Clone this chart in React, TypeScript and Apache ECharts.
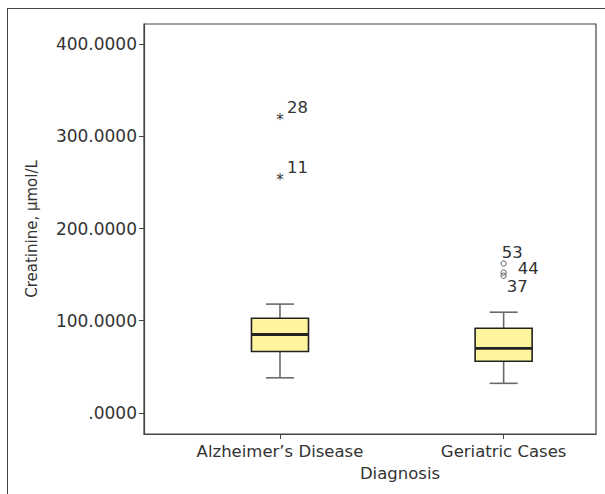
import React, { useEffect, useRef } from "react";
import * as echarts from "echarts";

const CATEGORIES = ["Alzheimer’s Disease", "Geriatric Cases"];
// [min whisker, Q1, median, Q3, max whisker]
const BOX_ALZ = [38, 66.5, 85, 102.7, 118];
const BOX_GER = [32, 56, 70, 91.8, 109.2];
const BOXES = [BOX_ALZ, BOX_GER];
// extreme outliers (asterisks): [categoryIndex, value, case id]
const EXTREMES: [number, number, string][] = [
  [0, 322, "28"],
  [0, 257, "11"],
];
// outliers (circles)
const OUTLIERS: [number, number, string][] = [
  [1, 162, "53"],
  [1, 152.2, "44"],
  [1, 148.8, "37"],
];
const Y_TICKS = [0, 100, 200, 300, 400];

// label offsets (layout only)
const EXTREME_LABEL_OFFSETS = [
  [7, -9],
  [7, -9],
];
const OUTLIER_LABEL_OFFSETS = [
  [-2, -11],
  [14, -4],
  [3, 11],
];

const FONT = "DejaVu Sans";
const TEXT_COLOR = "#333";

export default function App() {
  const ref = useRef<HTMLDivElement>(null);
  useEffect(() => {
    if (!ref.current) return;
    const chart = echarts.init(ref.current, null, { renderer: "svg" });
    const boxData = BOXES.map((b, i) => [i, ...b]);
    const option: any = {
      animation: false,
      backgroundColor: "transparent",
      grid: {
        left: 144,
        top: 24,
        right: 9,
        bottom: 60,
        show: true,
        backgroundColor: "#fff",
        borderColor: "#444",
        borderWidth: 1.2,
      },
      xAxis: {
        type: "value",
        min: -0.608,
        max: 1.413,
        splitLine: { show: false },
        axisLine: { show: true, onZero: false, lineStyle: { color: "#444", width: 1.2 } },
        axisTick: {
          show: true,
          customValues: [0, 1],
          length: 5,
          lineStyle: { color: "#444" },
        },
        axisLabel: {
          customValues: [0, 1],
          formatter: (v: number) => CATEGORIES[Math.round(v)],
          fontFamily: FONT,
          fontSize: 16.5,
          color: TEXT_COLOR,
          margin: 9,
        },
        name: "Diagnosis",
        nameLocation: "middle",
        nameGap: 30,
        nameTextStyle: {
          fontFamily: FONT,
          fontSize: 16.5,
          color: TEXT_COLOR,
          padding: [0, 0, 0, 60],
        },
      },
      yAxis: {
        type: "value",
        min: -23,
        max: 422,
        splitLine: { show: false },
        axisLine: { show: true, onZero: false, lineStyle: { color: "#444", width: 1.2 } },
        axisTick: {
          show: true,
          customValues: Y_TICKS,
          length: 5,
          lineStyle: { color: "#444" },
        },
        axisLabel: {
          customValues: Y_TICKS,
          formatter: (v: number) => (v === 0 ? ".0000" : v.toFixed(4)),
          fontFamily: FONT,
          fontSize: 17,
          color: TEXT_COLOR,
          margin: 7,
        },
        name: "Creatinine, μmol/L",
        nameLocation: "middle",
        nameGap: 105,
        nameTextStyle: {
          fontFamily: FONT,
          fontSize: 15,
          color: TEXT_COLOR,
        },
      },
      series: [
        {
          type: "custom",
          data: boxData,
          encode: { x: 0, y: [1, 2, 3, 4, 5] },
          renderItem: (params: any, api: any) => {
            const x = api.value(0);
            const lo = api.coord([x, api.value(1)]);
            const q1 = api.coord([x, api.value(2)]);
            const med = api.coord([x, api.value(3)]);
            const q3 = api.coord([x, api.value(4)]);
            const hi = api.coord([x, api.value(5)]);
            const cx = lo[0];
            const bw = 57;
            const cw = 28;
            const wStyle = { stroke: "#6a6a6a", lineWidth: 1.6 };
            return {
              type: "group",
              children: [
                { type: "line", shape: { x1: cx, y1: hi[1], x2: cx, y2: q3[1] }, style: wStyle },
                { type: "line", shape: { x1: cx, y1: q1[1], x2: cx, y2: lo[1] }, style: wStyle },
                { type: "line", shape: { x1: cx - cw / 2, y1: hi[1], x2: cx + cw / 2, y2: hi[1] }, style: wStyle },
                { type: "line", shape: { x1: cx - cw / 2, y1: lo[1], x2: cx + cw / 2, y2: lo[1] }, style: wStyle },
                {
                  type: "rect",
                  shape: { x: cx - bw / 2, y: q3[1], width: bw, height: q1[1] - q3[1] },
                  style: { fill: "#fff59f", stroke: "#222", lineWidth: 1.6 },
                },
                {
                  type: "line",
                  shape: { x1: cx - bw / 2, y1: med[1], x2: cx + bw / 2, y2: med[1] },
                  style: { stroke: "#222", lineWidth: 2.8 },
                },
              ],
            };
          },
        },
        {
          type: "custom",
          data: EXTREMES.map((e) => [e[0], e[1]]),
          encode: { x: 0, y: 1 },
          renderItem: (params: any, api: any) => {
            const p = api.coord([api.value(0), api.value(1)]);
            const off = EXTREME_LABEL_OFFSETS[params.dataIndex];
            return {
              type: "group",
              children: [
                {
                  type: "text",
                  x: p[0],
                  y: p[1] + 4,
                  style: {
                    text: "*",
                    fontFamily: FONT,
                    fontSize: 15,
                    fill: "#333",
                    align: "center",
                    verticalAlign: "middle",
                  },
                },
                {
                  type: "text",
                  x: p[0] + off[0],
                  y: p[1] + off[1],
                  style: {
                    text: EXTREMES[params.dataIndex][2],
                    fontFamily: FONT,
                    fontSize: 16.5,
                    fill: TEXT_COLOR,
                    align: "left",
                    verticalAlign: "middle",
                  },
                },
              ],
            };
          },
        },
        {
          type: "custom",
          data: OUTLIERS.map((e) => [e[0], e[1]]),
          encode: { x: 0, y: 1 },
          renderItem: (params: any, api: any) => {
            const p = api.coord([api.value(0), api.value(1)]);
            const off = OUTLIER_LABEL_OFFSETS[params.dataIndex];
            return {
              type: "group",
              children: [
                {
                  type: "circle",
                  shape: { cx: p[0], cy: p[1], r: 2.6 },
                  style: { fill: "none", stroke: "#555", lineWidth: 1 },
                },
                {
                  type: "text",
                  x: p[0] + off[0],
                  y: p[1] + off[1],
                  style: {
                    text: OUTLIERS[params.dataIndex][2],
                    fontFamily: FONT,
                    fontSize: 16.5,
                    fill: TEXT_COLOR,
                    align: "left",
                    verticalAlign: "middle",
                  },
                },
              ],
            };
          },
        },
      ],
    };
    chart.setOption(option);
    return () => chart.dispose();
  }, []);
  return (
    <div
      style={{
        position: "absolute",
        left: 0,
        top: 0,
        width: 605,
        height: 494,
        background: "#fff",
        overflow: "hidden",
      }}
    >
      <div
        style={{
          position: "absolute",
          left: 7,
          top: 8,
          width: 598,
          height: 486,
          borderLeft: "1px solid #444",
          borderTop: "1px solid #444",
          borderRight: "none",
          borderBottom: "none",
          boxSizing: "border-box",
        }}
      />
      <div ref={ref} style={{ position: "absolute", left: 0, top: 0, width: 605, height: 494 }} />
    </div>
  );
}
